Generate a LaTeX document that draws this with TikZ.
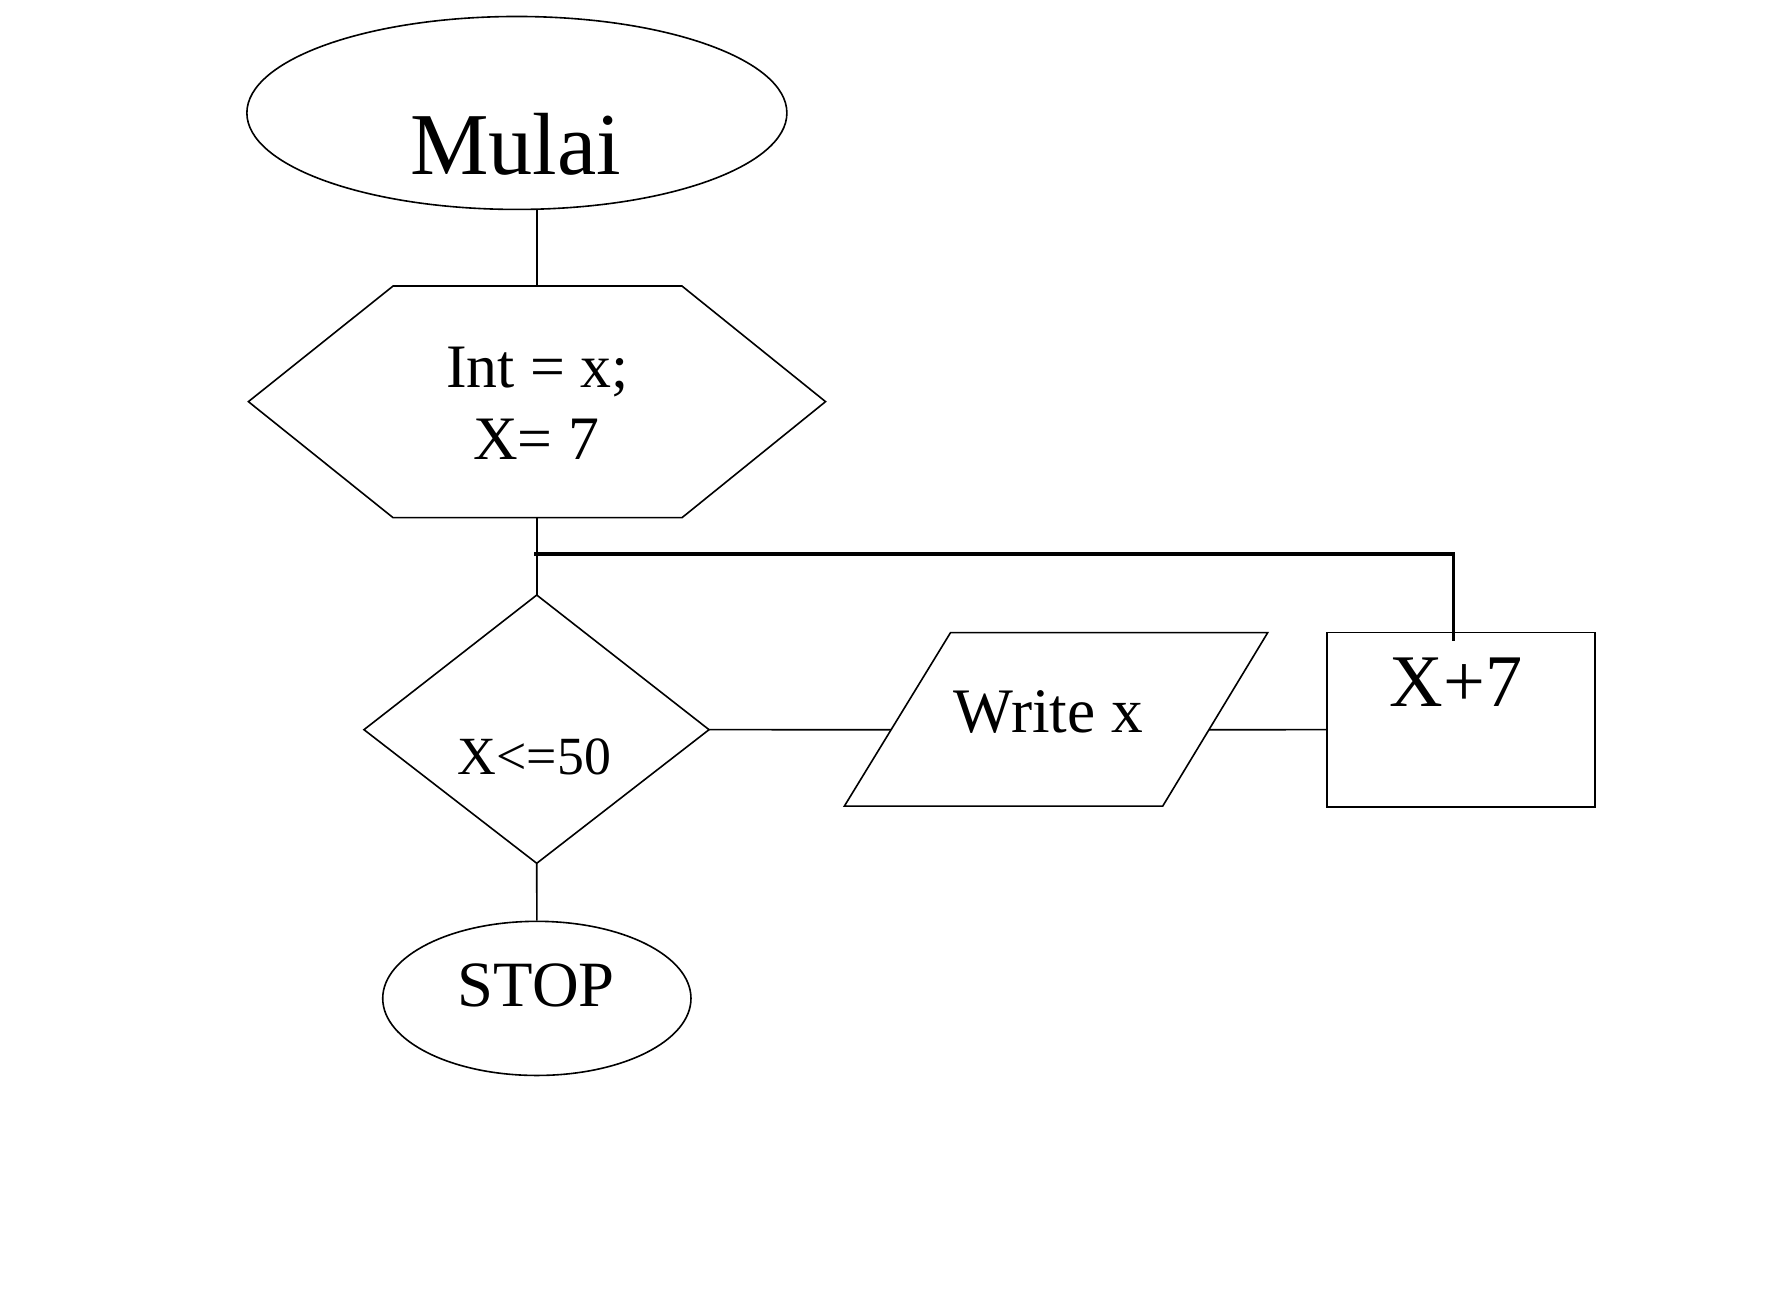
\documentclass[tikz,border=0pt]{standalone}
\usepackage{fontspec}
\setmainfont{Liberation Serif}
\usetikzlibrary{shapes.geometric, calc}

\begin{document}
\begin{tikzpicture}[x=0.01cm, y=-0.01cm, line width=0.4pt,
    terminal/.style={draw, ellipse, inner sep=0pt},
    txt/.style={anchor=base, inner sep=0pt}]

    % 0. Canvas
    \useasboundingbox (0,0) rectangle (1560,1140);

    % 1. Start ellipse
    \node[terminal, minimum width=4.73cm, minimum height=1.69cm] (mulai) at (453,99) {};
    \node[txt, font=\fontsize{22}{26}\selectfont] (mulaiText) at (452,152.5) {Mulai};

    % 2. Hexagon for the declaration
    \coordinate (hexTL) at (344.5,250.7);
    \coordinate (hexTR) at (597.7,250.7);
    \coordinate (hexR) at (723.5,352);
    \coordinate (hexBR) at (597.7,453.7);
    \coordinate (hexBL) at (344.5,453.7);
    \coordinate (hexL) at (217.7,352);
    \draw (hexTL) -- (hexTR) -- (hexR) -- (hexBR) -- (hexBL) -- (hexL) -- cycle;
    \node[txt, font=\fontsize{15.4}{18}\selectfont] (declA) at (471,339.5) {Int = x;};
    \node[txt, font=\fontsize{15.4}{18}\selectfont] (declB) at (470,403) {X= 7};

    % 3. Decision diamond
    \coordinate (diaT) at (470.4,521.5);
    \coordinate (diaR) at (621.4,639.5);
    \coordinate (diaB) at (470.4,756.6);
    \coordinate (diaL) at (319,639.5);
    \draw (diaT) -- (diaR) -- (diaB) -- (diaL) -- cycle;
    \node[txt, font=\fontsize{13.4}{16}\selectfont] (condText) at (468.3,679.2) {X<=50};

    % 4. Output parallelogram
    \coordinate (wrTL) at (833,554.5);
    \coordinate (wrTR) at (1111,554.5);
    \coordinate (wrBR) at (1019,706.5);
    \coordinate (wrBL) at (740,706.5);
    \draw (wrTL) -- (wrTR) -- (wrBR) -- (wrBL) -- cycle;
    \node[txt, font=\fontsize{15.8}{18}\selectfont] (writeText) at (918.8,642.4) {Write x};

    % 5. Process box
    \node[draw, minimum width=2.35cm, minimum height=1.525cm, inner sep=0pt] (plus) at (1280.5,630.75) {};
    \node[txt, font=\fontsize{18.5}{22}\selectfont] (plusText) at (1276,619.3) {X+7};

    % 6. Stop ellipse
    \node[terminal, minimum width=2.70cm, minimum height=1.35cm] (stop) at (470.5,875) {};
    \node[txt, font=\fontsize{16.1}{19}\selectfont] (stopText) at (470,881.7) {STOP};

    % 7. Connectors
    \draw (mulai.south -| diaT) -- (hexTL -| diaT);
    \draw (hexBL -| diaT) -- (diaT);
    \draw (diaB) -- (stop.north);

    \coordinate (plusL) at (plus.west |- diaR);
    \coordinate (wrL) at (intersection of wrBL--wrTL and diaR--plusL);
    \coordinate (wrR) at (intersection of wrBR--wrTR and diaR--plusL);
    \draw (diaR) -- (wrL);
    \draw (wrR) -- (plusL);

    % 8. Loop back line (drawn heavier)
    \coordinate (loopL) at (468,485.5);
    \coordinate (loopR) at (1274,485.5);
    \draw[line width=0.9pt] (loopL) -- (loopR) -- ($(loopR |- plus.north)+(0,8)$);

\end{tikzpicture}
\end{document}
